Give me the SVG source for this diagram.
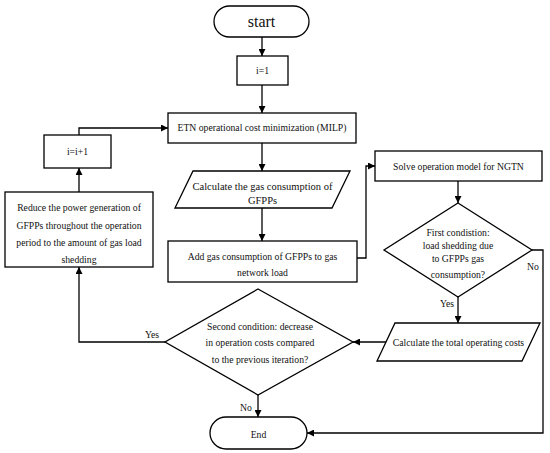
<svg xmlns="http://www.w3.org/2000/svg" width="550" height="453" viewBox="0 0 550 453">
<style>
.s{fill:#fff;stroke:#000;stroke-width:1.3}
.c{fill:none;stroke:#000;stroke-width:1.3}
text{font-family:"Liberation Serif","Times New Roman",serif;font-size:9.7px;fill:#111;text-anchor:middle}
.l{text-anchor:start}
</style>
<defs>
<marker id="a" viewBox="0 0 10 10" refX="10" refY="5" markerWidth="7" markerHeight="7" markerUnits="userSpaceOnUse" orient="auto">
<path d="M0,0L10,5L0,10z" fill="#000"/>
</marker>
</defs>
<rect width="550" height="453" fill="#fff"/>
<g id="connectors">
<path class="c" d="M262,37V56" marker-end="url(#a)"/>
<path class="c" d="M262,85V113" marker-end="url(#a)"/>
<path class="c" d="M262,143V171" marker-end="url(#a)"/>
<path class="c" d="M262,208V241" marker-end="url(#a)"/>
<path class="c" d="M357,258H366V166H375" marker-end="url(#a)"/>
<path class="c" d="M458,181V203" marker-end="url(#a)"/>
<path class="c" d="M532,250H543V433H307" marker-end="url(#a)"/>
<path class="c" d="M458,297V323" marker-end="url(#a)"/>
<path class="c" d="M386,342H353" marker-end="url(#a)"/>
<path class="c" d="M165,342H79V267" marker-end="url(#a)"/>
<path class="c" d="M79,192V168" marker-end="url(#a)"/>
<path class="c" d="M79,135V128H168" marker-end="url(#a)"/>
<path class="c" d="M258,395V417" marker-end="url(#a)"/>
<text x="527" y="270" class="l">No</text>
<text x="440" y="307" class="l">Yes</text>
<text x="145" y="338" class="l">Yes</text>
<text x="240" y="411" class="l">No</text>
</g>
<g id="start">
<rect class="s" x="214" y="6" width="95" height="31" rx="15.5"/>
<text x="261.5" y="27" style="font-size:16px">start</text>
</g>
<g id="init">
<rect class="s" x="237" y="56" width="51" height="29"/>
<text x="262.5" y="74">i=1</text>
</g>
<g id="etn">
<rect class="s" x="168" y="113" width="188" height="30"/>
<text x="262" y="131">ETN operational cost minimization (MILP)</text>
</g>
<g id="calcGas">
<polygon class="s" points="193,171 350,171 332,208 175,208"/>
<text x="262.5" y="190" style="font-size:10.5px">Calculate the gas consumption of</text>
<text x="262.5" y="204" style="font-size:10.5px">GFPPs</text>
</g>
<g id="addGas">
<rect class="s" x="168" y="241" width="189" height="41"/>
<text x="262.5" y="260">Add gas consumption of GFPPs to gas</text>
<text x="262.5" y="276">network load</text>
</g>
<g id="solve">
<rect class="s" x="375" y="151" width="167" height="30"/>
<text x="458.5" y="169.5">Solve operation model for NGTN</text>
</g>
<g id="cond1">
<polygon class="s" points="458,203 532,250 458,297 384,250"/>
<text x="458" y="236">First condistion:</text>
<text x="458" y="249">load shedding due</text>
<text x="458" y="262">to GFPPs gas</text>
<text x="458" y="278">consumption?</text>
</g>
<g id="calcTotal">
<polygon class="s" points="395,323 540,323 522,361 377,361"/>
<text x="458.5" y="346">Calculate the total operating costs</text>
</g>
<g id="cond2">
<polygon class="s" points="258,289 353,342 258,395 165,342"/>
<text x="260" y="330">Second condition: decrease</text>
<text x="260" y="346">in operation costs compared</text>
<text x="260" y="363">to the previous iteration?</text>
</g>
<g id="reduce">
<rect class="s" x="5" y="192" width="148" height="75"/>
<text x="79" y="211">Reduce the power generation of</text>
<text x="79" y="229">GFPPs throughout the operation</text>
<text x="79" y="246">period to the amount of gas load</text>
<text x="79" y="263">shedding</text>
</g>
<g id="incr">
<rect class="s" x="44" y="135" width="67" height="33"/>
<text x="77.5" y="155">i=i+1</text>
</g>
<g id="end">
<rect class="s" x="210" y="417" width="97" height="32" rx="16"/>
<text x="258.5" y="437.5">End</text>
</g>
</svg>
